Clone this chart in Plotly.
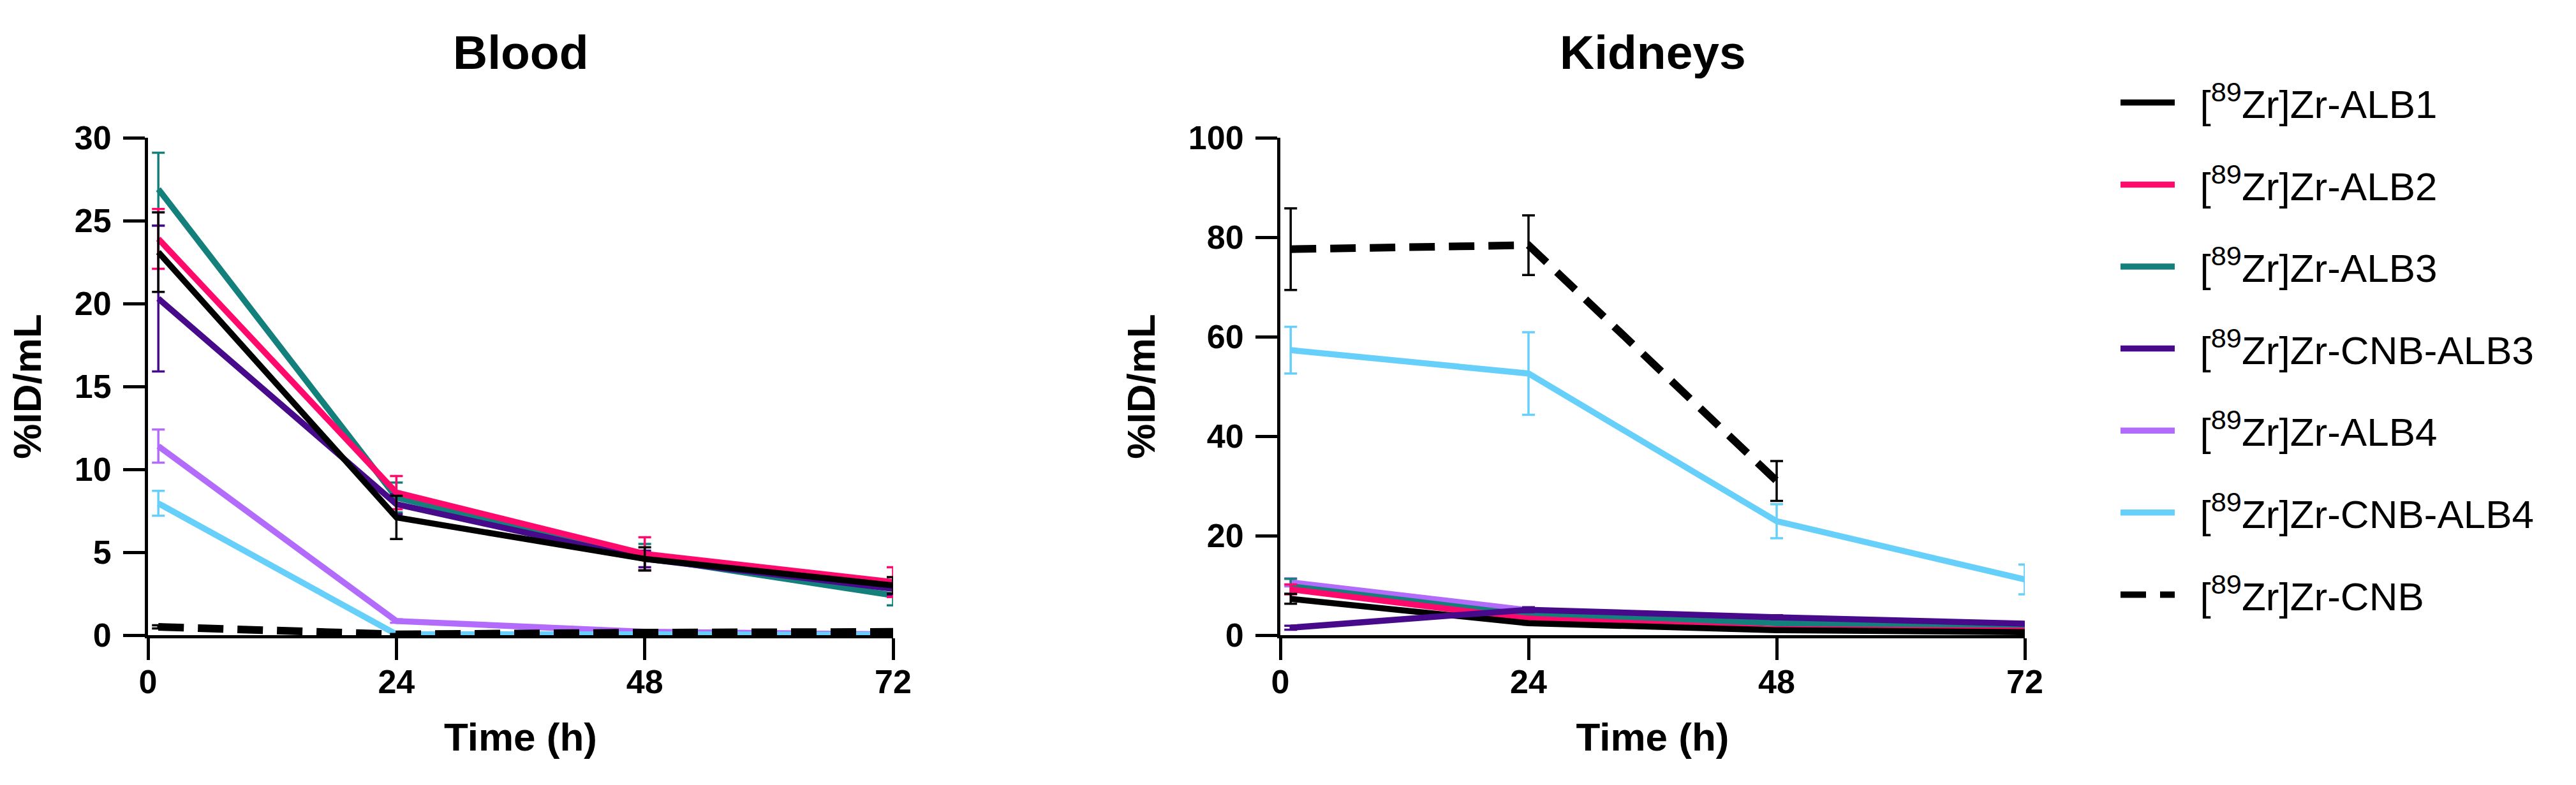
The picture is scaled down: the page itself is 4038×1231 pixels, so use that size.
import plotly.graph_objects as go

# ---------------- data ----------------
time_h = [1, 24, 48, 72]

series_labels = [
    "[<sup>89</sup>Zr]Zr-ALB1",
    "[<sup>89</sup>Zr]Zr-ALB2",
    "[<sup>89</sup>Zr]Zr-ALB3",
    "[<sup>89</sup>Zr]Zr-CNB-ALB3",
    "[<sup>89</sup>Zr]Zr-ALB4",
    "[<sup>89</sup>Zr]Zr-CNB-ALB4",
    "[<sup>89</sup>Zr]Zr-CNB",
]

# Blood (%ID/mL) mean and SD
blood_alb1 = [23.1, 7.1, 4.6, 3.0]
blood_alb2 = [23.9, 8.6, 4.9, 3.2]
blood_alb3 = [26.9, 8.3, 4.7, 2.4]
blood_cnb_alb3 = [20.3, 7.9, 4.6, 2.8]
blood_alb4 = [11.4, 0.85, 0.2, 0.05]
blood_cnb_alb4 = [7.95, 0.05, 0.05, 0.02]
blood_cnb = [0.5, 0.05, 0.15, 0.2]

blood_alb1_sd = [2.4, 1.3, 0.7, 0.5]
blood_alb2_sd = [1.8, 1.0, 1.0, 0.9]
blood_alb3_sd = [2.2, 0.9, 0.8, 0.6]
blood_cnb_alb3_sd = [4.4, 0.6, 0.5, 0.4]
blood_alb4_sd = [1.0, 0.1, 0.05, 0.02]
blood_cnb_alb4_sd = [0.75, 0.02, 0.02, 0.01]
blood_cnb_sd = [0.1, 0.02, 0.05, 0.05]

# Kidneys (%ID/mL) mean and SD
kid_alb1 = [7.3, 2.4, 1.0, 0.6]
kid_alb2 = [9.2, 3.3, 1.2, 0.9]
kid_alb3 = [9.8, 4.0, 2.4, 1.7]
kid_cnb_alb3 = [1.5, 5.1, 3.6, 2.3]
kid_alb4 = [10.6, 5.0, 3.2, 2.0]
kid_cnb_alb4 = [57.3, 52.6, 22.9, 11.2]
kid_cnb = [77.6, 78.4, 31.0, None]

kid_alb1_sd = [1.0, 0.3, 0.2, 0.1]
kid_alb2_sd = [1.0, 0.4, 0.3, 0.2]
kid_alb3_sd = [1.5, 0.4, 0.3, 0.2]
kid_cnb_alb3_sd = [0.4, 0.5, 0.4, 0.3]
kid_alb4_sd = [0.8, 0.5, 0.3, 0.2]
kid_cnb_alb4_sd = [4.7, 8.3, 3.4, 3.0]
kid_cnb_sd = [8.2, 6.0, 4.0, None]

blood_means = [blood_alb1, blood_alb2, blood_alb3, blood_cnb_alb3,
               blood_alb4, blood_cnb_alb4, blood_cnb]
blood_sds = [blood_alb1_sd, blood_alb2_sd, blood_alb3_sd, blood_cnb_alb3_sd,
             blood_alb4_sd, blood_cnb_alb4_sd, blood_cnb_sd]
kid_means = [kid_alb1, kid_alb2, kid_alb3, kid_cnb_alb3,
             kid_alb4, kid_cnb_alb4, kid_cnb]
kid_sds = [kid_alb1_sd, kid_alb2_sd, kid_alb3_sd, kid_cnb_alb3_sd,
           kid_alb4_sd, kid_cnb_alb4_sd, kid_cnb_sd]

# ---------------- style ----------------
colors = ["#000000", "#FF0A6C", "#14807B", "#470A8A",
          "#B26BFA", "#66CFFA", "#000000"]
dashes = ["solid"] * 6 + ["40px,22px"]
widths = [9.5, 9.5, 9.5, 9.5, 9.5, 9.5, 12]

blood_draw_order = [4, 5, 2, 3, 1, 0, 6]
kid_draw_order = [4, 2, 1, 0, 3, 5, 6]

FONT = "Liberation Sans, Arial, sans-serif"
LEGEND_PAD = "&nbsp;&nbsp;"

fig = go.Figure()


def add_series(i, means, sds, xa, ya, show):
    fig.add_trace(go.Scatter(
        x=time_h, y=means[i], mode="lines",
        name=LEGEND_PAD + series_labels[i],
        legendgroup="g%d" % i, legendrank=i + 1, showlegend=show,
        line=dict(color=colors[i], width=widths[i], dash=dashes[i]),
        error_y=dict(type="data", array=sds[i], visible=True,
                     color=colors[i], thickness=3.5, width=10),
        xaxis=xa, yaxis=ya, connectgaps=False,
    ))


for i in blood_draw_order:
    add_series(i, blood_means, blood_sds, "x", "y", False)
for i in kid_draw_order:
    add_series(i, kid_means, kid_sds, "x2", "y2", True)

W, H = 4038, 1231
ydom = [(H - 988) / H, (H - 208) / H]

axis_common = dict(
    showline=True, linecolor="black", linewidth=5,
    ticks="outside", ticklen=34, tickwidth=5, tickcolor="black",
    showgrid=False, zeroline=False,
    tickfont=dict(family=FONT, size=52, color="black", weight="bold"),
    automargin=False,
)
title_font = dict(family=FONT, size=62, weight="bold", color="black")

fig.update_layout(
    width=W, height=H, autosize=False,
    margin=dict(l=0, r=0, t=0, b=0),
    paper_bgcolor="white", plot_bgcolor="white",
    font=dict(family=FONT, color="black"),
    xaxis=dict(domain=[224 / W, 1392 / W], range=[0, 72],
               tickvals=[0, 24, 48, 72], anchor="y",
               ticklabelstandoff=-10,
               title=dict(text="Time (h)", standoff=38, font=title_font),
               **axis_common),
    yaxis=dict(domain=ydom, range=[0, 30], tickvals=[0, 5, 10, 15, 20, 25, 30],
               anchor="x", ticklabelstandoff=8,
               title=dict(text="%ID/mL", standoff=34, font=title_font),
               **axis_common),
    xaxis2=dict(domain=[1999 / W, 3166 / W], range=[0, 72],
                tickvals=[0, 24, 48, 72], anchor="y2",
                ticklabelstandoff=-10,
                title=dict(text="Time (h)", standoff=38, font=title_font),
                **axis_common),
    yaxis2=dict(domain=ydom, range=[0, 100],
                tickvals=[0, 20, 40, 60, 80, 100],
                anchor="x2", ticklabelstandoff=8,
                title=dict(text="%ID/mL", standoff=34, font=title_font),
                **axis_common),
    legend=dict(
        x=3311 / W, y=1 - 106 / H, xanchor="left", yanchor="top",
        font=dict(family=FONT, size=62, color="black"),
        itemwidth=85, tracegroupgap=45, traceorder="grouped",
        bgcolor="rgba(0,0,0,0)", borderwidth=0, valign="middle",
    ),
    annotations=[
        dict(text="<b>Blood</b>", x=(224 + 1392) / 2 / W, y=1 - 74 / H,
             xref="paper", yref="paper", showarrow=False,
             xanchor="center", yanchor="middle",
             font=dict(family=FONT, size=75, color="black")),
        dict(text="<b>Kidneys</b>", x=(1999 + 3166) / 2 / W, y=1 - 74 / H,
             xref="paper", yref="paper", showarrow=False,
             xanchor="center", yanchor="middle",
             font=dict(family=FONT, size=75, color="black")),
    ],
)

fig.write_html("out.html")
